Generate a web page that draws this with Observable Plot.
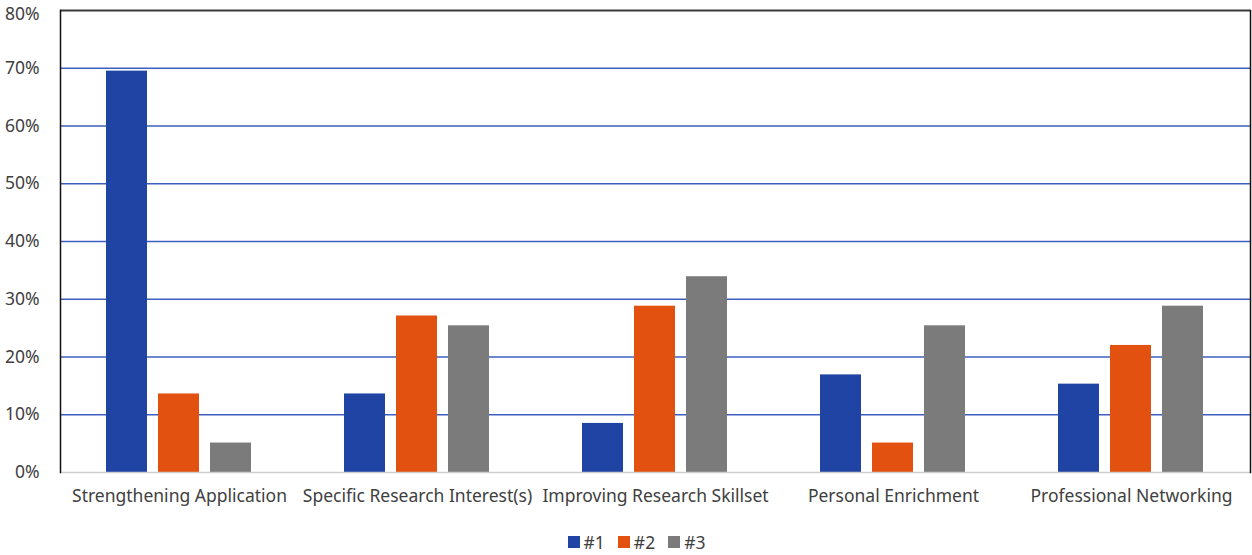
<!DOCTYPE html>
<html>
<head>
<meta charset="utf-8">
<script src="https://cdn.jsdelivr.net/npm/d3@7"></script>
<script src="https://cdn.jsdelivr.net/npm/@observablehq/plot@0.6"></script>
<style>
  body { margin: 0; background: #fff; }
  #chart { width: 1252px; }
  div.lg-swatches { justify-content: center !important; margin: 0 !important; padding-left: 34px; }
  span.lg-swatch { margin-right: 13px !important; }
  span.lg-swatch > svg { margin-right: 4px !important; }
</style>
</head>
<body>
<div id="chart"></div>
<script>
const categories = ["Strengthening Application", "Specific Research Interest(s)", "Improving Research Skillset", "Personal Enrichment", "Professional Networking"];
const seriesNames = ["#1", "#2", "#3"];
const rank1 = [69.5, 13.6, 8.5, 16.9, 15.3];
const rank2 = [13.6, 27.1, 28.8, 5.1, 22.0];
const rank3 = [5.1, 25.4, 33.9, 25.4, 28.8];
const yTicks = [0, 10, 20, 30, 40, 50, 60, 70, 80];
const colors = ["#1f44a3", "#e2510f", "#7b7b7b"];

const seriesValues = [rank1, rank2, rank3];
const data = [];
categories.forEach((c, i) => {
  seriesNames.forEach((s, j) => data.push({category: c, series: s, value: seriesValues[j][i]}));
});

const FONT = "'Noto Sans', sans-serif";
const yMax = yTicks[yTicks.length - 1];
const chart = Plot.plot({
  width: 1252,
  height: 525,
  marginLeft: 58,
  marginRight: 1,
  marginTop: 10,
  marginBottom: 53,
  style: {fontFamily: FONT, fontSize: "17.5px", color: "#404040"},
  fx: {domain: categories, padding: 0, axis: null},
  x: {domain: seriesNames, paddingInner: 0.21, paddingOuter: 0.855, axis: null},
  y: {domain: [0, yMax], axis: null},
  color: {domain: seriesNames, range: colors},
  marks: [
    Plot.gridY({ticks: yTicks.filter(t => t > 0 && t < yMax), stroke: "#3d5fbf", strokeOpacity: 1, strokeWidth: 1.5}),
    Plot.barY(data, {fx: "category", x: "series", y: "value", fill: "series"}),
    Plot.ruleY([0], {stroke: "#cfcfcf", strokeWidth: 1.5}),
    Plot.ruleY([yMax], {stroke: "#3a3a3a", strokeWidth: 2}),
    Plot.frame({anchor: "left", facetAnchor: "left", stroke: "#111", strokeWidth: 1.5}),
    Plot.frame({anchor: "right", facetAnchor: "right", stroke: "#111", strokeWidth: 1.5}),
    Plot.axisY({anchor: "left", ticks: yTicks.filter(t => t < yMax), tickFormat: d => d + "%", tickSize: 0, tickPadding: 21, label: null, fontSize: 17.5, fill: "#404040"}),
    Plot.axisY({anchor: "left", ticks: [yMax], tickFormat: d => d + "%", tickSize: 0, tickPadding: 21, label: null, fontSize: 17.5, fill: "#404040", dy: 4}),
    Plot.axisFx({anchor: "bottom", tickSize: 0, tickPadding: 17, label: null, fontSize: 17.5, fill: "#404040"})
  ]
});

const legend = chart.legend("color", {swatchSize: 12, className: "lg", style: {fontFamily: FONT, fontSize: "17.5px", color: "#404040"}});
document.getElementById("chart").appendChild(chart);
document.getElementById("chart").appendChild(legend);
</script>
</body>
</html>
